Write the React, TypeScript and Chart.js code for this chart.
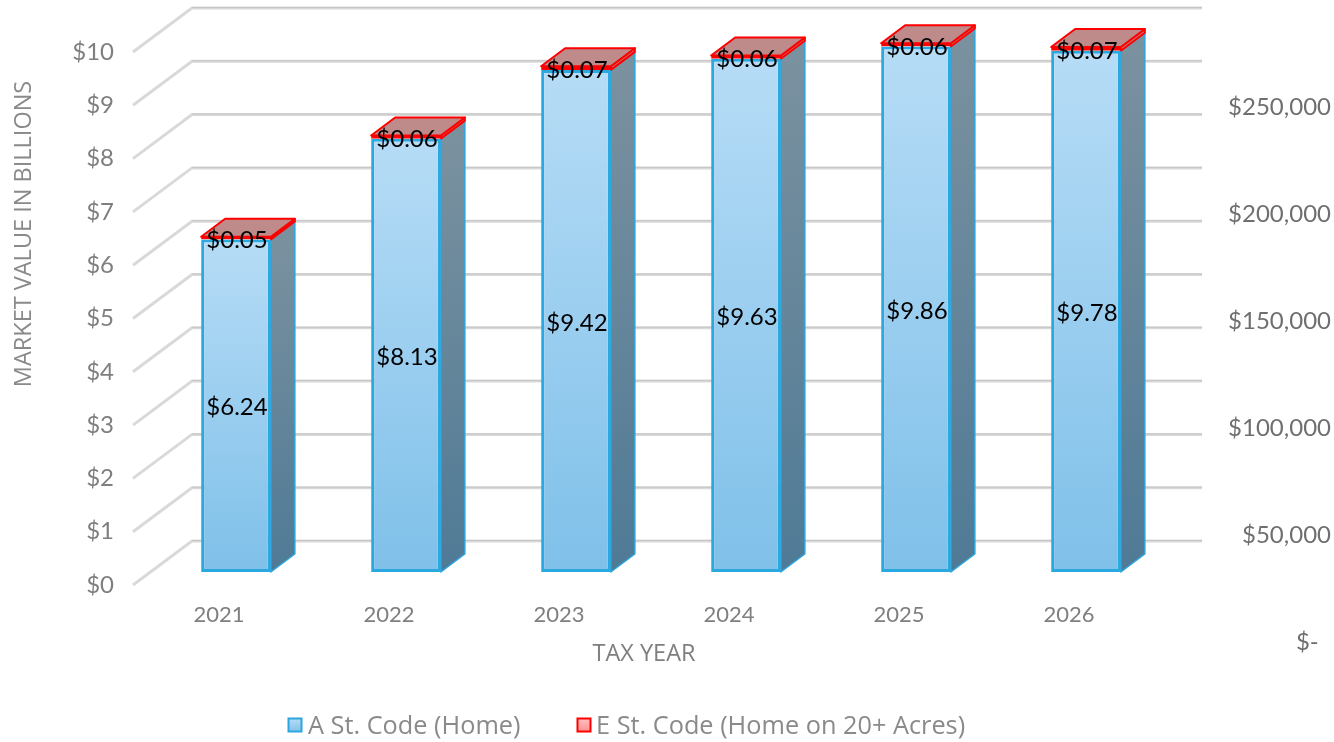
import React, { useEffect, useRef } from "react";
import { Chart, registerables } from "chart.js";

Chart.register(...registerables);

const categories = ["2021", "2022", "2023", "2024", "2025", "2026"];
const homeValues = [6.24, 8.13, 9.42, 9.63, 9.86, 9.78];
const acreValues = [0.05, 0.06, 0.07, 0.06, 0.06, 0.07];
const seriesNames = ["A St. Code (Home)", "E St. Code (Home on 20+ Acres)"];
const rightTicks = [0, 50000, 100000, 150000, 200000, 250000];
const leftTitle = "MARKET VALUE IN BILLIONS";
const bottomTitle = "TAX YEAR";

const FONT = "Lato, 'Open Sans', sans-serif";
const TEXT_FONT = "'Open Sans', Lato, sans-serif";
const DEPTH_X = 24;
const DEPTH_Y = 18;
const BAR_SHIFT_X = 17;
const BAR_SHIFT_Y = -13;
const WALL_X = 59;
const WALL_Y = 44;

const barBack = (stops: [string, string], solid: string) => (c: any) => {
  if (c.dataIndex === undefined || !c.chart.scales.y) return solid;
  const s = c.chart.scales.y;
  const y0 = s.getPixelForValue(homeValues[c.dataIndex]);
  const y1 = s.getPixelForValue(0);
  if (!Number.isFinite(y0) || !Number.isFinite(y1)) return solid;
  const g = c.chart.ctx.createLinearGradient(0, y0, 0, y1);
  g.addColorStop(0, stops[0]);
  g.addColorStop(1, stops[1]);
  return g;
};

const noPadding = (s: any) => {
  s.paddingTop = 0;
  s.paddingBottom = 0;
  s.paddingLeft = 0;
  s.paddingRight = 0;
};

const wallPlugin = {
  id: "wall3d",
  beforeDatasetsDraw(chart: any) {
    const { ctx, chartArea, scales } = chart;
    ctx.save();
    ctx.lineCap = "butt";
    for (const t of scales.y.ticks) {
      const y = scales.y.getPixelForValue(t.value);
      ctx.beginPath();
      ctx.moveTo(chartArea.left - 1, y);
      ctx.lineTo(chartArea.left - 1 + WALL_X, y - WALL_Y);
      ctx.lineTo(chartArea.right + 48, y - WALL_Y);
      ctx.lineWidth = 3;
      ctx.strokeStyle = "#d9d9d9";
      ctx.stroke();
      ctx.beginPath();
      ctx.moveTo(chartArea.left - 1 + WALL_X, y - WALL_Y - 0.5);
      ctx.lineTo(chartArea.right + 48, y - WALL_Y - 0.5);
      ctx.lineWidth = 1;
      ctx.strokeStyle = "#c6c6c6";
      ctx.stroke();
    }
    ctx.restore();

    // y axis title
    ctx.save();
    ctx.translate(24, 234);
    ctx.rotate(-Math.PI / 2);
    ctx.font = `23.5px ${TEXT_FONT}`;
    ctx.fillStyle = "#8a8a8a";
    ctx.textAlign = "center";
    ctx.textBaseline = "middle";
    ctx.fillText(leftTitle, 0, 0);
    ctx.restore();

    // legend
    ctx.save();
    ctx.font = `25.3px ${TEXT_FONT}`;
    ctx.textBaseline = "middle";
    ctx.textAlign = "left";
    const legendX = [288.5, 577.5];
    const textX = [308, 596];
    const legendFill = [["#b6dcf6", "#7fc0e9"], ["#ffc0c0", "#ff8f8f"]];
    const legendStroke = ["#2ba6de", "#ff0000"];
    chart.data.datasets.forEach((ds: any, i: number) => {
      const g = ctx.createLinearGradient(0, 718, 0, 733);
      g.addColorStop(0, legendFill[i][0]);
      g.addColorStop(1, legendFill[i][1]);
      ctx.fillStyle = g;
      ctx.strokeStyle = legendStroke[i];
      ctx.lineWidth = 2;
      ctx.fillRect(legendX[i], 718.5, 13, 13);
      ctx.strokeRect(legendX[i], 718.5, 13, 13);
      ctx.fillStyle = "#8a8a8a";
      ctx.fillText(ds.label, textX[i], 727);
    });
    ctx.restore();

    ctx.save();
    ctx.translate(BAR_SHIFT_X, BAR_SHIFT_Y);
    ctx.lineJoin = "round";
    chart.data.datasets.forEach((_: any, d: number) => {
      const meta = chart.getDatasetMeta(d);
      meta.data.forEach((bar: any) => {
        const half = bar.width / 2;
        const right = bar.x + half;
        const left = bar.x - half;
        let side: any = "#6a8a9f";
        if (Number.isFinite(bar.y) && Number.isFinite(bar.base)) {
          side = ctx.createLinearGradient(0, bar.y, 0, bar.base);
          if (d === 0) {
            side.addColorStop(0, "#7a919f");
            side.addColorStop(1, "#4f7a96");
          } else {
            side.addColorStop(0, "#c47f7f");
            side.addColorStop(1, "#c47f7f");
          }
        }
        ctx.beginPath();
        ctx.moveTo(right, bar.y);
        ctx.lineTo(right + DEPTH_X, bar.y - DEPTH_Y);
        ctx.lineTo(right + DEPTH_X, bar.base - DEPTH_Y);
        ctx.lineTo(right, bar.base);
        ctx.closePath();
        ctx.fillStyle = side;
        ctx.fill();
        ctx.lineWidth = d === 0 ? 1.5 : 2;
        ctx.strokeStyle = d === 0 ? "#2ba6de" : "#ff0000";
        ctx.stroke();
        if (d === 1) {
          ctx.beginPath();
          ctx.moveTo(left, bar.y);
          ctx.lineTo(left + DEPTH_X, bar.y - DEPTH_Y);
          ctx.lineTo(right + DEPTH_X, bar.y - DEPTH_Y);
          ctx.lineTo(right, bar.y);
          ctx.closePath();
          ctx.fillStyle = "#bf8a8a";
          ctx.fill();
          ctx.lineWidth = 2;
          ctx.strokeStyle = "#ff0000";
          ctx.stroke();
        }
      });
    });
  },
  afterDatasetsDraw(chart: any) {
    const { ctx } = chart;
    ctx.restore();
    ctx.save();
    ctx.font = `24px ${FONT}`;
    ctx.fillStyle = "#000000";
    ctx.textAlign = "center";
    ctx.textBaseline = "middle";
    chart.data.datasets.forEach((ds: any, d: number) => {
      chart.getDatasetMeta(d).data.forEach((bar: any, i: number) => {
        const x = bar.x + BAR_SHIFT_X + 1;
        const y = (bar.y + bar.base) / 2 + BAR_SHIFT_Y + 2;
        ctx.fillText("$" + ds.data[i].toFixed(2), x, y);
      });
    });
    ctx.restore();
  },
};

export default function App() {
  const ref = useRef<HTMLCanvasElement>(null);
  useEffect(() => {
    const chart = new Chart(ref.current as HTMLCanvasElement, {
      type: "bar",
      data: {
        labels: categories,
        datasets: [
          {
            label: seriesNames[0],
            data: homeValues,
            backgroundColor: barBack(["#b6dcf6", "#7fc0e9"], "#9fd0f0"),
            borderColor: "#2aa8e0",
            borderWidth: 3,
            borderSkipped: false,
            clip: false as any,
            yAxisID: "y",
          },
          {
            label: seriesNames[1],
            data: acreValues,
            backgroundColor: "#ffa0a0",
            borderColor: "#ff0000",
            borderWidth: 2.5,
            borderSkipped: false,
            clip: false as any,
            yAxisID: "y",
          },
        ],
      },
      options: {
        animation: false,
        responsive: false,
        layout: { padding: { top: 52, left: 0, right: 3, bottom: 0 } },
        datasets: { bar: { categoryPercentage: 1, barPercentage: 0.41 } },
        plugins: {
          tooltip: { enabled: false },
          legend: { display: false },
        },
        scales: {
          x: {
            stacked: true,
            grid: { display: false },
            border: { display: false },
            ticks: { color: "#7f7f7f", padding: 9, font: { family: FONT, size: 22 } },
            title: {
              display: true,
              text: bottomTitle,
              color: "#7f7f7f",
              font: { family: TEXT_FONT, size: 23.5 },
              padding: { top: 0, bottom: 74 },
            },
            afterFit: (s: any) => {
              s.height = 157;
              noPadding(s);
            },
          },
          y: {
            stacked: true,
            position: "left",
            min: 0,
            max: 10,
            grid: { display: false },
            border: { display: false },
            ticks: {
              stepSize: 1,
              color: "#7f7f7f",
              padding: 12,
              font: { family: FONT, size: 24 },
              callback: (v: any) => "$" + v,
            },
            afterFit: (s: any) => {
              s.width = 134;
              noPadding(s);
            },
          },
          y1: {
            display: true,
            position: "right",
            min: 26600,
            max: 275700,
            grid: { display: false },
            border: { display: false },
            ticks: {
              color: "#6f6f6f",
              crossAlign: "far",
              padding: 70,
              autoSkip: false,
              font: { family: FONT, size: 24 },
              callback: (v: any) => (v === 0 ? "$-  " : "$" + Number(v).toLocaleString("en-US")),
            },
            afterBuildTicks: (s: any) => {
              s.ticks = rightTicks.map((value) => ({ value }));
            },
            afterFit: (s: any) => {
              s.width = 177;
              noPadding(s);
            },
          },
        },
      },
      plugins: [wallPlugin],
    } as any);
    return () => chart.destroy();
  }, []);
  return (
    <div style={{ position: "absolute", left: 0, top: 0, width: 1334, height: 742, background: "#fff" }}>
      <canvas ref={ref} width={1334} height={742} style={{ display: "block" }} />
    </div>
  );
}
